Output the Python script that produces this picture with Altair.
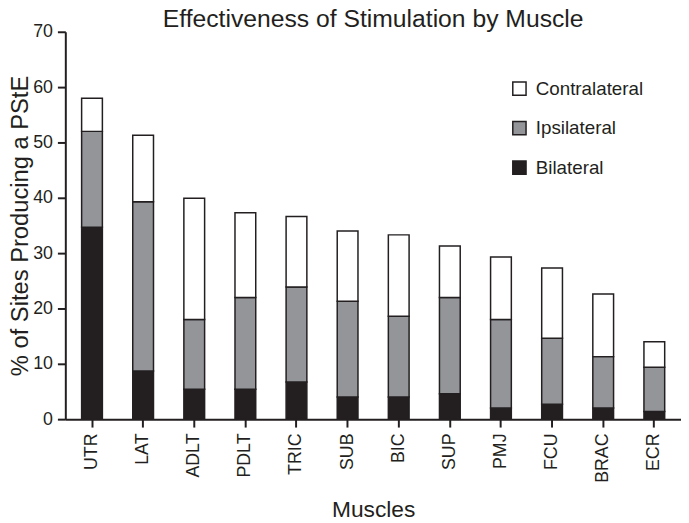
import altair as alt
import pandas as pd

muscles = ["UTR", "LAT", "ADLT", "PDLT", "TRIC", "SUB", "BIC", "SUP", "PMJ", "FCU", "BRAC", "ECR"]
bilateral = [34.7, 8.7, 5.4, 5.4, 6.7, 4.0, 4.0, 4.6, 2.0, 2.7, 2.0, 1.4]
ipsilateral = [17.3, 30.6, 12.6, 16.6, 17.2, 17.3, 14.6, 17.4, 16.0, 11.9, 9.3, 8.0]
contralateral = [6.0, 12.0, 21.9, 15.3, 12.7, 12.7, 14.7, 9.3, 11.3, 12.7, 11.3, 4.6]

groups = ["Contralateral", "Ipsilateral", "Bilateral"]
stack_rank = {"Bilateral": 0, "Ipsilateral": 1, "Contralateral": 2}

rows = []
for i, m in enumerate(muscles):
    for g, vals in (("Bilateral", bilateral), ("Ipsilateral", ipsilateral), ("Contralateral", contralateral)):
        rows.append({"muscle": m, "group": g, "value": vals[i], "rank": stack_rank[g]})
df = pd.DataFrame(rows)

INK = "#231f20"
FONT = "Liberation Sans"

chart = alt.Chart(df).mark_bar(stroke=INK, strokeWidth=1.5).encode(
    x=alt.X("muscle:N", sort=muscles,
            scale=alt.Scale(paddingInner=0.594, paddingOuter=0.319),
            axis=alt.Axis(title="Muscles", labelAngle=270, labelFontSize=18, labelPadding=6,
                          tickSize=8, tickWidth=2, domainWidth=2, titleFontSize=23,
                          titleFontWeight="normal", titleX=311.5, titleY=99,
                          titleBaseline="alphabetic", titleAlign="center")),
    y=alt.Y("value:Q", stack="zero",
            scale=alt.Scale(domain=[0, 70], nice=False),
            axis=alt.Axis(title="% of Sites Producing a PStE", values=[0, 10, 20, 30, 40, 50, 60, 70],
                          labelFontSize=18, labelPadding=5, tickSize=8, tickWidth=2, domainWidth=2,
                          grid=False, titleFontSize=24, titleFontWeight="normal",
                          titleX=-38, titleY=196, titleAngle=270, titleBaseline="alphabetic",
                          titleAlign="center")),
    fill=alt.Fill("group:N",
                  scale=alt.Scale(domain=groups, range=["#ffffff", "#939598", INK]),
                  legend=alt.Legend(title=None, orient="none", legendX=450, legendY=48,
                                    symbolType="square", symbolSize=180, symbolStrokeColor=INK,
                                    symbolStrokeWidth=1.5, labelFontSize=19, labelOffset=7,
                                    rowPadding=19, padding=0)),
    order=alt.Order("rank:Q", sort="ascending"),
).properties(
    width=623,
    height=392,
    title=alt.TitleParams("Effectiveness of Stimulation by Muscle", fontSize=25, font=FONT,
                          fontWeight="normal", color=INK, anchor="middle", frame="group",
                          offset=0, dy=9),
    autosize=alt.AutoSizeParams(type="none"),
    padding={"left": 58, "top": 21, "right": 0, "bottom": 100},
).configure_view(stroke=None).configure_axis(
    labelFont=FONT, titleFont=FONT, labelColor=INK, titleColor=INK,
    domainColor=INK, tickColor=INK,
).configure_legend(labelFont=FONT, labelColor=INK)

chart.save("out.html", embed_options={"renderer": "svg", "actions": False})
